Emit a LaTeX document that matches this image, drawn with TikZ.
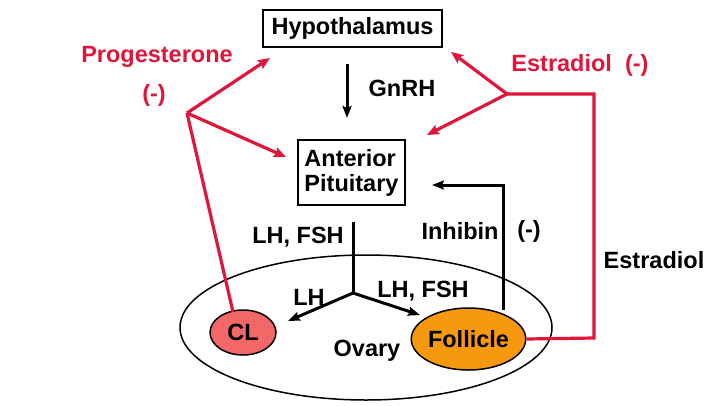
\documentclass[tikz,border=0pt]{standalone}
\usepackage{fontspec}
\setmainfont{Liberation Sans}
\usetikzlibrary{arrows.meta,shapes.geometric}
\definecolor{hred}{RGB}{221,22,58}
\definecolor{clfill}{RGB}{242,104,104}
\definecolor{folfill}{RGB}{247,153,14}
\tikzset{
  lbl/.style={font=\fontsize{23.5}{25}\selectfont\bfseries, inner sep=0pt},
  rlbl/.style={lbl, text=hred},
  boxnode/.style={draw, line width=1.6pt, inner sep=0pt},
  blk/.style={line width=3pt, -{Stealth[length=12pt,width=9pt,inset=2pt]}},
  blkline/.style={line width=3pt},
  redarr/.style={hred, line width=3.2pt, -{Stealth[length=12pt,width=10pt,inset=2pt]}},
  redline/.style={hred, line width=3.2pt},
  oval/.style={ellipse, draw, line width=1.5pt, inner sep=0pt},
}
\begin{document}
\begin{tikzpicture}[x=1pt,y=-1pt]
\useasboundingbox (0,0) rectangle (720,405);
% boxes
\node[boxnode, minimum width=179pt, minimum height=37pt, lbl] (hyp) at (352.5,28.5) {Hypothalamus};
\node[boxnode, minimum width=107pt, minimum height=65pt, lbl, align=left] (pit) at (351.5,172.5) {Anterior\\Pituitary};
% ovary
\node[oval, minimum width=372pt, minimum height=145pt] (ovary) at (366,327.5) {};
\node[oval, fill=clfill, minimum width=66pt, minimum height=45pt, lbl] (cl) at (243,332.5) {CL};
\node[oval, fill=folfill, minimum width=107pt, minimum height=62pt, lbl] (fol) at (468.5,339) {Follicle};
\node[lbl] (ovlbl) at (367,351) {Ovary};
% labels
\node[rlbl] (prog) at (157,57) {Progesterone};
\node[rlbl] (progm) at (154,95) {(-)};
\node[rlbl] (estr) at (580,65) {Estradiol\ \ (-)};
\node[lbl] (gnrh) at (402,88) {GnRH};
\node[lbl] (lhfsh1) at (298,237) {LH, FSH};
\node[lbl] (inh) at (460,231) {Inhibin};
\node[lbl] (inhm) at (529,231) {(-)};
\node[lbl] (estr2) at (654,260) {Estradiol};
\node[lbl] (lh) at (309,297) {LH};
\node[lbl] (lhfsh2) at (423,291) {LH, FSH};
% coordinates
\coordinate (g1) at (347,64);
\coordinate (g2) at (347,118);
\coordinate (pj) at (187,113);
\coordinate (ph) at (270,58);
\coordinate (pp) at (286,157);
\coordinate (clt) at (233,312);
\coordinate (ej) at (507,94);
\coordinate (ec1) at (594,338);
\coordinate (ec2) at (594,94);
\coordinate (eh) at (451,52);
\coordinate (ep) at (427,135);
\coordinate (ft) at (503,310);
\coordinate (ic) at (503,185);
\coordinate (it) at (432,185);
\coordinate (ls) at (353,222);
\coordinate (lj) at (353,293);
\coordinate (lcl) at (288,321);
\coordinate (lfol) at (420,315);
% GnRH
\draw[blk] (g1) -- (g2);
% progesterone
\draw[redline, line join=miter] (clt) -- (pj);
\draw[redarr] (pj) -- (ph);
\draw[redarr] (pj) -- (pp);
% estradiol
\draw[redline, line join=miter] (fol.east) -- (ec1) -- (ec2) -- (ej);
\draw[redarr] (ej) -- (eh);
\draw[redarr] (ej) -- (ep);
% inhibin
\draw[blk, line join=miter] (ft) -- (ic) -- (it);
% LH FSH
\draw[blkline] (ls) -- (lj);
\draw[blk] (lj) -- (lcl);
\draw[blk] (lj) -- (lfol);
\end{tikzpicture}
\end{document}
